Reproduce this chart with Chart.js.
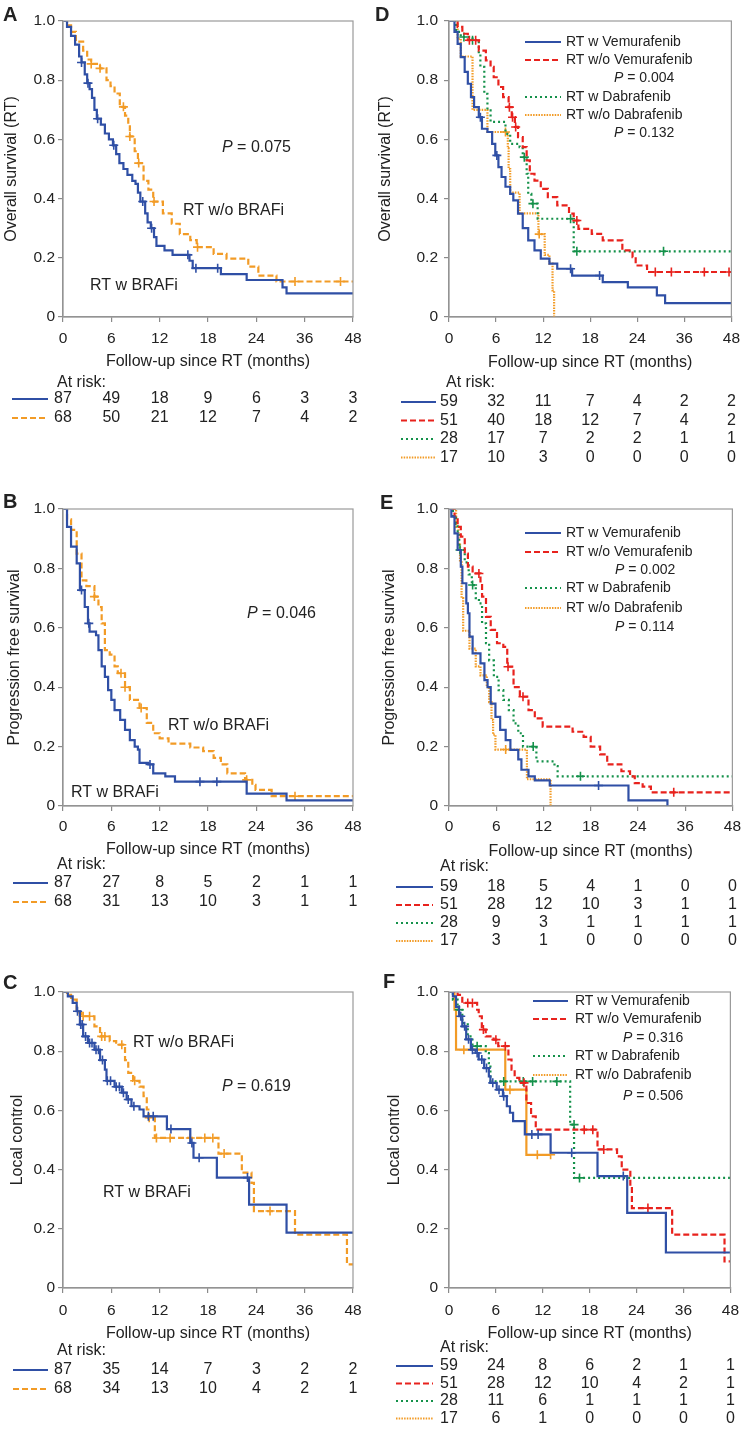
<!DOCTYPE html>
<html>
<head>
<meta charset="utf-8">
<title>Survival after RT with and without BRAF inhibitors</title>
<script src="https://cdn.jsdelivr.net/npm/chart.js@4.4.1/dist/chart.umd.min.js"></script>
<style>
    html, body { margin: 0; padding: 0; background: #fff; }
    body { position: relative; width: 747px; height: 1432px; overflow: hidden; }
    canvas { position: absolute; }
</style>
</head>
<body>
<script>
// Axis labels (x axis is equally spaced per tick, 24-48 months are compressed)
const xTickLabels = ["0", "6", "12", "18", "24", "36", "48"];
const yTickLabels = ["0", "0.2", "0.4", "0.6", "0.8", "1.0"];

// A - overall survival, [months, survival]
const osBrafSteps = [[0,1],[0.5,0.98],[1,0.95],[1.5,0.92],[2,0.88],[2.3,0.86],[2.7,0.82],[3,0.79],[3.3,0.77],[3.6,0.74],[3.9,0.70],[4.2,0.67],[4.7,0.65],[5.2,0.62],[5.7,0.60],[6.2,0.58],[6.6,0.55],[7,0.52],[7.5,0.50],[8,0.48],[8.6,0.46],[9,0.45],[9.3,0.42],[9.6,0.39],[10.2,0.35],[10.5,0.32],[10.9,0.30],[11.3,0.27],[11.6,0.24],[12.6,0.225],[13.6,0.21],[15.7,0.19],[16.1,0.165],[19.6,0.145],[22.8,0.125],[30.5,0.10],[31.5,0.08],[48,0.08]];
const osBrafCens = [[2.3,0.86],[3.1,0.79],[4.3,0.67],[6.3,0.58],[9.9,0.39],[11,0.30],[15.5,0.21],[16.5,0.165],[19.2,0.165]];
const osNoBrafSteps = [[0,1],[0.5,0.985],[1,0.963],[1.6,0.93],[2.5,0.90],[3,0.87],[3.5,0.855],[4.6,0.84],[5.4,0.80],[5.9,0.78],[6.4,0.755],[7.05,0.71],[7.7,0.68],[8.1,0.65],[8.3,0.61],[8.9,0.56],[9.3,0.52],[10,0.46],[10.6,0.43],[11.2,0.39],[12.4,0.35],[13.5,0.315],[14.5,0.28],[15.8,0.26],[16.6,0.236],[18.7,0.213],[20.3,0.197],[23,0.17],[24.5,0.14],[29,0.12],[48,0.12]];
const osNoBrafCens = [[3.5,0.855],[4.6,0.84],[7.5,0.71],[8.3,0.61],[9.4,0.52],[11.3,0.39],[16.7,0.236],[33.6,0.12],[44.9,0.12]];
const osBrafRisk = [87, 49, 18, 9, 6, 3, 3];
const osNoBrafRisk = [68, 50, 21, 12, 7, 4, 2];

// B - progression free survival
const pfsBrafSteps = [[0,1],[0.5,0.94],[1,0.873],[1.7,0.817],[2.1,0.727],[2.7,0.67],[3.1,0.615],[3.3,0.587],[4.1,0.575],[4.4,0.525],[4.8,0.47],[5.2,0.435],[5.6,0.39],[6,0.357],[6.4,0.323],[7.1,0.29],[7.7,0.256],[8.3,0.222],[8.9,0.20],[9.3,0.19],[9.5,0.145],[10.6,0.14],[11.2,0.11],[12.7,0.10],[13.9,0.082],[22.8,0.042],[31.5,0.019],[48,0.019]];
const pfsBrafCens = [[2.3,0.727],[3.2,0.615],[10.8,0.14],[17,0.082],[19.1,0.082]];
const pfsNoBrafSteps = [[0,1],[0.5,0.965],[1,0.93],[1.7,0.85],[2.3,0.76],[2.9,0.74],[3.9,0.705],[4.4,0.67],[4.8,0.615],[5.2,0.525],[5.8,0.51],[6.4,0.47],[6.8,0.447],[7.7,0.40],[8.3,0.357],[9.5,0.33],[10.4,0.28],[11.2,0.245],[12,0.228],[13.1,0.21],[15.8,0.197],[17.4,0.185],[18.7,0.162],[19.6,0.14],[20.4,0.11],[22.6,0.088],[23.5,0.071],[23.9,0.054],[27.8,0.033],[48,0.033]];
const pfsNoBrafCens = [[3.9,0.705],[7.2,0.447],[7.7,0.40],[9.7,0.33],[22.8,0.088],[33.6,0.033]];
const pfsBrafRisk = [87, 27, 8, 5, 2, 1, 1];
const pfsNoBrafRisk = [68, 31, 13, 10, 3, 1, 1];

// C - local control
const lcBrafSteps = [[0,1],[0.6,0.985],[1.2,0.963],[1.7,0.935],[2.1,0.89],[2.5,0.85],[3.1,0.828],[3.9,0.805],[4.6,0.77],[5.2,0.738],[5.4,0.70],[6.4,0.68],[7.3,0.66],[7.9,0.637],[8.5,0.614],[9.5,0.603],[10,0.58],[12.9,0.537],[15.8,0.49],[16.2,0.44],[19.1,0.373],[23.1,0.282],[31.5,0.187],[48,0.187]];
const lcBrafCens = [[1.8,0.935],[2.2,0.89],[2.4,0.89],[2.8,0.85],[3.3,0.828],[3.6,0.828],[4.1,0.805],[4.4,0.805],[4.9,0.77],[5.5,0.70],[5.9,0.70],[6.6,0.68],[7,0.68],[7.5,0.66],[8.1,0.637],[8.8,0.614],[10.6,0.58],[11.2,0.58],[13.4,0.537],[16,0.49],[16.9,0.44],[22.9,0.373]];
const lcNoBrafSteps = [[0,1],[0.5,0.99],[1,0.974],[1.7,0.93],[2.3,0.918],[3.9,0.884],[4.6,0.85],[5.8,0.834],[6.6,0.822],[7.7,0.77],[8.1,0.727],[8.7,0.70],[9.5,0.68],[10,0.648],[10.4,0.603],[10.6,0.575],[11.4,0.507],[19.3,0.454],[22.2,0.39],[23.4,0.355],[23.7,0.26],[33.6,0.18],[46.5,0.08],[48,0.08]];
const lcNoBrafCens = [[2.5,0.918],[3.3,0.918],[4.8,0.85],[5.2,0.85],[7.3,0.822],[8.9,0.70],[10.7,0.575],[11.6,0.507],[13.3,0.507],[15.8,0.507],[17.6,0.507],[18.6,0.507],[20,0.454],[27.4,0.26]];
const lcBrafRisk = [87, 35, 14, 7, 3, 2, 2];
const lcNoBrafRisk = [68, 34, 13, 10, 4, 2, 1];

// D - overall survival by drug
const osVemSteps = [[0,1],[0.7,0.963],[1.1,0.923],[1.5,0.878],[2,0.828],[2.4,0.788],[2.8,0.743],[3.2,0.709],[3.8,0.675],[4.2,0.636],[4.9,0.625],[5.5,0.585],[5.9,0.546],[6.3,0.506],[6.7,0.473],[7.2,0.44],[7.8,0.416],[8.2,0.394],[8.8,0.349],[9.4,0.30],[10.1,0.259],[10.9,0.225],[11.7,0.197],[12.8,0.18],[13.8,0.163],[15.7,0.14],[19.6,0.118],[22.8,0.10],[29,0.073],[31.1,0.047],[48,0.047]];
const osVemCens = [[4,0.675],[6.1,0.546],[15.5,0.163],[19.2,0.14]];
const osNoVemSteps = [[0,1],[1.1,0.98],[1.7,0.957],[2.4,0.935],[3.8,0.90],[4.7,0.867],[5.3,0.845],[5.7,0.81],[6.3,0.777],[6.9,0.743],[7.6,0.709],[8,0.675],[8.4,0.642],[8.8,0.608],[9.4,0.574],[9.9,0.529],[10.3,0.484],[10.9,0.461],[11.7,0.433],[12.6,0.405],[13.8,0.377],[15.3,0.349],[15.9,0.326],[16.5,0.298],[18.2,0.281],[19.6,0.259],[22.1,0.225],[23.4,0.202],[23.8,0.174],[26.5,0.152],[48,0.152]];
const osNoVemCens = [[2.6,0.935],[3.4,0.935],[7.7,0.709],[8.1,0.675],[8.5,0.642],[16.3,0.326],[28.6,0.152],[32.7,0.152],[41.1,0.152],[47.4,0.152]];
const osDabSteps = [[0,1],[0.9,0.963],[1.5,0.946],[3,0.935],[3.8,0.89],[4,0.845],[4.5,0.754],[4.9,0.698],[5.3,0.659],[7.2,0.619],[7.8,0.585],[9,0.574],[9.4,0.54],[9.9,0.484],[10.1,0.416],[10.5,0.383],[11.3,0.332],[15.9,0.222],[48,0.222]];
const osDabCens = [[1.9,0.946],[3,0.935],[9.6,0.54],[10.7,0.383],[15.5,0.332],[16.3,0.222],[30.7,0.222]];
const osNoDabSteps = [[0,1],[1.1,0.94],[1.5,0.88],[3,0.70],[4.9,0.625],[7.5,0.57],[7.6,0.50],[7.8,0.42],[9,0.35],[11.4,0.28],[12.2,0.21],[12.8,0.18],[13.2,0.09],[13.4,0]];
const osNoDabCens = [[7.2,0.625],[11.5,0.28]];
const osVemRisk = [59, 32, 11, 7, 4, 2, 2];
const osNoVemRisk = [51, 40, 18, 12, 7, 4, 2];
const osDabRisk = [28, 17, 7, 2, 2, 1, 1];
const osNoDabRisk = [17, 10, 3, 0, 0, 0, 0];

// E - progression free survival by drug
const pfsVemSteps = [[0,1],[0.3,0.974],[0.7,0.918],[1.1,0.862],[1.5,0.806],[1.7,0.75],[2.2,0.682],[2.4,0.649],[2.6,0.57],[3,0.514],[4,0.48],[4.5,0.424],[4.9,0.40],[5.3,0.345],[5.9,0.30],[6.5,0.256],[7.2,0.222],[7.8,0.189],[8.8,0.157],[9.2,0.122],[10.1,0.10],[10.9,0.086],[12.8,0.069],[22.8,0.019],[31.5,0]];
const pfsVemCens = [[19,0.069]];
const pfsNoVemSteps = [[0,1],[0.7,0.974],[1.1,0.94],[1.5,0.907],[2,0.85],[2.4,0.806],[3,0.783],[4,0.75],[4.2,0.705],[4.7,0.637],[5.3,0.593],[6.1,0.548],[6.9,0.536],[7.4,0.469],[8.2,0.40],[9,0.368],[10.1,0.323],[10.9,0.295],[11.9,0.267],[15.7,0.25],[17.1,0.233],[18,0.20],[19.2,0.174],[20.1,0.14],[21.9,0.117],[23,0.10],[23.6,0.077],[25.2,0.065],[27.3,0.046],[48,0.046]];
const pfsNoVemCens = [[3.8,0.783],[7.5,0.469],[9.4,0.368],[33.1,0.046]];
const pfsDabSteps = [[0,1],[0.5,0.97],[0.9,0.95],[1.1,0.918],[1.3,0.862],[2,0.82],[2.5,0.78],[2.9,0.744],[3.4,0.70],[3.8,0.682],[4.2,0.615],[4.7,0.548],[5.1,0.49],[5.7,0.435],[6.3,0.39],[6.9,0.357],[7.6,0.323],[8.2,0.278],[8.8,0.245],[9.4,0.20],[11.1,0.15],[13.4,0.134],[13.8,0.10],[48,0.10]];
const pfsDabCens = [[1.4,0.862],[3,0.744],[10.7,0.20],[16.7,0.10]];
const pfsNoDabSteps = [[0,1],[0.9,0.94],[1.2,0.88],[1.4,0.82],[1.6,0.70],[1.8,0.59],[2.6,0.53],[3.4,0.47],[4,0.44],[4.8,0.40],[5.1,0.35],[5.4,0.29],[5.6,0.24],[5.9,0.19],[9.9,0.09],[12.9,0]];
const pfsNoDabCens = [[7.2,0.19]];
const pfsVemRisk = [59, 18, 5, 4, 1, 0, 0];
const pfsNoVemRisk = [51, 28, 12, 10, 3, 1, 1];
const pfsDabRisk = [28, 9, 3, 1, 1, 1, 1];
const pfsNoDabRisk = [17, 3, 1, 0, 0, 0, 0];

// F - local control by drug
const lcVemSteps = [[0,1],[0.5,0.985],[0.9,0.95],[1.3,0.918],[1.7,0.884],[2.2,0.84],[2.8,0.805],[3.4,0.794],[3.8,0.772],[4.5,0.743],[5.1,0.715],[5.3,0.693],[6.1,0.67],[6.9,0.648],[7.4,0.614],[7.8,0.592],[8.2,0.564],[9.7,0.519],[13,0.457],[19,0.378],[22.8,0.254],[31.5,0.12],[48,0.12]];
const lcVemCens = [[1.5,0.918],[2,0.884],[2.5,0.84],[3,0.805],[3.6,0.794],[4.2,0.772],[4.8,0.743],[5.6,0.693],[6.4,0.67],[7,0.648],[10.6,0.519],[11.4,0.519],[15.7,0.457],[22.3,0.378]];
const lcNoVemSteps = [[0,1],[1.1,0.99],[1.7,0.963],[3.6,0.94],[3.8,0.918],[4.2,0.873],[4.7,0.85],[5.7,0.839],[6.3,0.817],[7.6,0.772],[8,0.738],[8.4,0.71],[9,0.693],[9.9,0.625],[10.5,0.58],[11.1,0.535],[19,0.468],[21.5,0.445],[22.1,0.40],[23.2,0.344],[23.4,0.27],[33.1,0.18],[46.5,0.09],[48,0.09]];
const lcNoVemCens = [[2.4,0.963],[3,0.963],[4.4,0.873],[6,0.839],[7.2,0.817],[9.6,0.693],[17.3,0.535],[18.4,0.535],[19.8,0.468],[26.9,0.27]];
const lcDabSteps = [[0,1],[0.5,0.974],[1.1,0.94],[1.7,0.895],[2.4,0.85],[3,0.817],[4.7,0.794],[5.1,0.76],[5.3,0.698],[15.5,0.552],[16,0.372],[48,0.372]];
const lcDabCens = [[1.3,0.94],[3.6,0.817],[7,0.698],[9.5,0.698],[10.7,0.698],[13.8,0.698],[16,0.552],[16.7,0.372]];
const lcNoDabSteps = [[0,1],[0.7,0.94],[0.9,0.805],[7.2,0.67],[9.9,0.45],[13,0.45]];
const lcNoDabCens = [[1.9,0.805],[7.8,0.67],[11.3,0.45],[13,0.45]];
const lcVemRisk = [59, 24, 8, 6, 2, 1, 1];
const lcNoVemRisk = [51, 28, 12, 10, 4, 2, 1];
const lcDabRisk = [28, 11, 6, 1, 1, 1, 1];
const lcNoDabRisk = [17, 6, 1, 0, 0, 0, 0];

const FONT = "'Liberation Sans', Arial, Helvetica, sans-serif";
const TEXT = "#222";
const BLUE = "#2f4fa5";
const ORANGE = "#f29b26";
const RED = "#e8221d";
const GREEN = "#14914a";
const SOLID = [];
const DASHED = [6, 3];
const DOTTED = [2, 3];
const FINEDOT = [1.5, 1.2];

// months -> position on the piecewise axis
function monthToPos(m) {
    return m <= 24 ? m / 6 : 4 + (m - 24) / 12;
}

function pText(ctx, value, x, y) {
    ctx.font = "italic 16px " + FONT;
    ctx.fillText("P", x, y);
    const w = ctx.measureText("P").width;
    ctx.font = "16px " + FONT;
    ctx.fillText(" = " + value, x + w, y);
}

function legendText(ctx, value, x, y) {
    ctx.font = "italic 14px " + FONT;
    ctx.fillText("P", x, y);
    const w = ctx.measureText("P").width;
    ctx.font = "14px " + FONT;
    ctx.fillText(" = " + value, x + w, y);
}

function sampleLine(ctx, s, x1, x2, y) {
    ctx.save();
    ctx.strokeStyle = s.color;
    ctx.lineWidth = 2.2;
    ctx.setLineDash(s.sampleDash || s.dash);
    ctx.beginPath();
    ctx.moveTo(x1, y);
    ctx.lineTo(x2, y);
    ctx.stroke();
    ctx.restore();
}

// frame, titles, annotations, legend and at-risk table
const decor = {
    id: "decor",
    afterDraw: function(chart, args, opts) {
        const p = opts.panel;
        const ctx = chart.ctx;
        const a = chart.chartArea;
        const xs = chart.scales.x;
        const ox = p.box[0], oy = p.box[1];
        ctx.save();
        ctx.strokeStyle = "#9a9a9a";
        ctx.lineWidth = 1.2;
        ctx.strokeRect(a.left, a.top, a.right - a.left, a.bottom - a.top);
        ctx.fillStyle = TEXT;
        ctx.textBaseline = "middle";
        // panel letter
        ctx.textAlign = "left";
        ctx.font = "bold 20px " + FONT;
        ctx.fillText(p.letter, p.letterPos[0] - ox, p.letterPos[1] - oy);
        // y title
        ctx.save();
        ctx.translate(p.yTitleX - ox, (a.top + a.bottom) / 2);
        ctx.rotate(-Math.PI / 2);
        ctx.textAlign = "center";
        ctx.font = "16px " + FONT;
        ctx.fillText(p.yTitle, 0, 0);
        ctx.restore();
        // x title
        ctx.textAlign = "center";
        ctx.font = "16px " + FONT;
        ctx.fillText("Follow-up since RT (months)", (a.left + a.right) / 2, a.bottom + p.xTitleOff);
        // curve labels and p values
        ctx.textAlign = "left";
        (p.labels || []).forEach(function(l) {
            ctx.font = "16px " + FONT;
            ctx.fillText(l.text, l.x - ox, l.y - oy);
        });
        (p.pvals || []).forEach(function(v) {
            pText(ctx, v.value, v.x - ox, v.y - oy);
        });
        // legend box inside plot
        if (p.legend) {
            const lg = p.legend;
            p.series.forEach(function(s, i) {
                const y = lg.rows[i] - oy;
                sampleLine(ctx, s, lg.lineX[0] - ox, lg.lineX[1] - ox, y);
                ctx.font = "14px " + FONT;
                ctx.fillText(s.name, lg.textX - ox, y);
            });
            lg.pvals.forEach(function(v) {
                legendText(ctx, v.value, v.x - ox, v.y - oy);
            });
        }
        // at-risk table
        ctx.font = "16px " + FONT;
        ctx.textAlign = "left";
        ctx.fillText("At risk:", p.riskX - ox, a.bottom + p.riskTitleOff);
        p.series.forEach(function(s, i) {
            const y = a.bottom + p.riskRowOff + i * p.riskGap;
            sampleLine(ctx, s, p.sampleX[0] - ox, p.sampleX[1] - ox, y);
            ctx.font = "16px " + FONT;
            ctx.textAlign = "center";
            s.risk.forEach(function(n, j) {
                ctx.fillText(String(n), xs.getPixelForValue(j), y);
            });
            ctx.textAlign = "left";
        });
        ctx.restore();
    }
};

function buildPanel(p) {
    const canvas = document.createElement("canvas");
    canvas.width = p.box[2];
    canvas.height = p.box[3];
    canvas.style.left = p.box[0] + "px";
    canvas.style.top = p.box[1] + "px";
    canvas.style.width = p.box[2] + "px";
    canvas.style.height = p.box[3] + "px";
    document.body.appendChild(canvas);

    const datasets = [];
    p.series.forEach(function(s) {
        datasets.push({
            data: s.steps.map(function(pt) { return { x: monthToPos(pt[0]), y: pt[1] }; }),
            stepped: "before",
            borderColor: s.color,
            borderWidth: 2.2,
            borderDash: s.dash,
            pointRadius: 0,
            fill: false
        });
        datasets.push({
            data: s.cens.map(function(pt) { return { x: monthToPos(pt[0]), y: pt[1] }; }),
            showLine: false,
            pointStyle: "cross",
            pointRadius: 4.5,
            borderColor: s.color,
            backgroundColor: s.color,
            borderWidth: 1.6
        });
    });

    const localTop = p.plot[1] - p.box[1];
    const localBottom = p.plot[3] - p.box[1];
    const xAxisH = 30;
    const tickFont = { family: FONT, size: 15.5 };

    new Chart(canvas.getContext("2d"), {
        type: "line",
        data: { datasets: datasets },
        options: {
            responsive: false,
            animation: false,
            devicePixelRatio: 1,
            layout: {
                padding: {
                    left: 0,
                    top: localTop,
                    right: p.box[0] + p.box[2] - p.plot[2],
                    bottom: p.box[3] - localBottom - xAxisH
                }
            },
            plugins: {
                legend: { display: false },
                tooltip: { enabled: false },
                decor: { panel: p }
            },
            scales: {
                x: {
                    type: "linear",
                    min: 0,
                    max: xTickLabels.length - 1,
                    afterBuildTicks: function(scale) {
                        scale.ticks = xTickLabels.map(function(l, i) { return { value: i }; });
                    },
                    afterFit: function(scale) { scale.height = xAxisH; },
                    ticks: {
                        autoSkip: false,
                        maxRotation: 0,
                        minRotation: 0,
                        padding: p.xTickPad,
                        color: TEXT,
                        font: tickFont,
                        callback: function(v, i) { return xTickLabels[i]; }
                    },
                    grid: { drawOnChartArea: false, drawTicks: true, tickLength: 5, color: "#8a8a8a", lineWidth: 1.2 },
                    border: { color: "#8a8a8a", width: 1.2 }
                },
                y: {
                    min: 0,
                    max: 1,
                    afterBuildTicks: function(scale) {
                        scale.ticks = yTickLabels.map(function(l, i) { return { value: i / 5 }; });
                    },
                    afterFit: function(scale) { scale.width = p.plot[0] - p.box[0]; },
                    ticks: {
                        padding: p.yTickPad,
                        color: TEXT,
                        font: tickFont,
                        callback: function(v, i) { return yTickLabels[i]; }
                    },
                    grid: { drawOnChartArea: false, drawTicks: true, tickLength: 5, color: "#8a8a8a", lineWidth: 1.2 },
                    border: { color: "#8a8a8a", width: 1.2 }
                }
            }
        },
        plugins: [decor]
    });
}

const panels = [
    {
        letter: "A", box: [0, 0, 373, 470], plot: [63, 21, 353, 317], letterPos: [3, 15],
        yTitle: "Overall survival (RT)", yTitleX: 12, yTickPad: 3, xTickPad: 7, xTitleOff: 45,
        riskX: 57, riskTitleOff: 66, riskRowOff: 82, riskGap: 19, sampleX: [12, 48],
        labels: [{ text: "RT w/o BRAFi", x: 183, y: 211 }, { text: "RT w BRAFi", x: 90, y: 286 }],
        pvals: [{ value: "0.075", x: 222, y: 148 }],
        series: [
            { steps: osBrafSteps, cens: osBrafCens, risk: osBrafRisk, color: BLUE, dash: SOLID },
            { steps: osNoBrafSteps, cens: osNoBrafCens, risk: osNoBrafRisk, color: ORANGE, dash: DASHED }
        ]
    },
    {
        letter: "B", box: [0, 470, 373, 480], plot: [63, 509, 353, 806], letterPos: [3, 502],
        yTitle: "Progression free survival", yTitleX: 15, yTickPad: 3, xTickPad: 6, xTitleOff: 44,
        riskX: 57, riskTitleOff: 59, riskRowOff: 77, riskGap: 19, sampleX: [13, 48],
        labels: [{ text: "RT w/o BRAFi", x: 168, y: 726 }, { text: "RT w BRAFi", x: 71, y: 793 }],
        pvals: [{ value: "0.046", x: 247, y: 614 }],
        series: [
            { steps: pfsBrafSteps, cens: pfsBrafCens, risk: pfsBrafRisk, color: BLUE, dash: SOLID },
            { steps: pfsNoBrafSteps, cens: pfsNoBrafCens, risk: pfsNoBrafRisk, color: ORANGE, dash: DASHED }
        ]
    },
    {
        letter: "C", box: [0, 950, 373, 482], plot: [63, 992, 353, 1288], letterPos: [3, 983],
        yTitle: "Local control", yTitleX: 18, yTickPad: 3, xTickPad: 8, xTitleOff: 46,
        riskX: 57, riskTitleOff: 63, riskRowOff: 82, riskGap: 19, sampleX: [13, 48],
        labels: [{ text: "RT w/o BRAFi", x: 133, y: 1043 }, { text: "RT w BRAFi", x: 103, y: 1193 }],
        pvals: [{ value: "0.619", x: 222, y: 1087 }],
        series: [
            { steps: lcBrafSteps, cens: lcBrafCens, risk: lcBrafRisk, color: BLUE, dash: SOLID },
            { steps: lcNoBrafSteps, cens: lcNoBrafCens, risk: lcNoBrafRisk, color: ORANGE, dash: DASHED }
        ]
    },
    {
        letter: "D", box: [373, 0, 374, 470], plot: [449, 21, 737, 317], letterPos: [375, 15],
        yTitle: "Overall survival (RT)", yTitleX: 386, yTickPad: 6, xTickPad: 7, xTitleOff: 46,
        riskX: 446, riskTitleOff: 66, riskRowOff: 85, riskGap: 18.5, sampleX: [401, 436],
        legend: {
            lineX: [525, 561], textX: 566, rows: [42, 60, 97, 115],
            pvals: [{ value: "0.004", x: 614, y: 78 }, { value: "0.132", x: 614, y: 133 }]
        },
        series: [
            { name: "RT w Vemurafenib", steps: osVemSteps, cens: osVemCens, risk: osVemRisk, color: BLUE, dash: SOLID },
            { name: "RT w/o Vemurafenib", steps: osNoVemSteps, cens: osNoVemCens, risk: osNoVemRisk, color: RED, dash: DASHED },
            { name: "RT w Dabrafenib", steps: osDabSteps, cens: osDabCens, risk: osDabRisk, color: GREEN, dash: DOTTED },
            { name: "RT w/o Dabrafenib", steps: osNoDabSteps, cens: osNoDabCens, risk: osNoDabRisk, color: ORANGE, dash: FINEDOT }
        ]
    },
    {
        letter: "E", box: [373, 470, 374, 480], plot: [449, 509, 737, 806], letterPos: [380, 503],
        yTitle: "Progression free survival", yTitleX: 390, yTickPad: 6, xTickPad: 6, xTitleOff: 46,
        riskX: 440, riskTitleOff: 61, riskRowOff: 81, riskGap: 18, sampleX: [396, 433],
        legend: {
            lineX: [525, 561], textX: 566, rows: [533, 552, 588, 608],
            pvals: [{ value: "0.002", x: 615, y: 570 }, { value: "0.114", x: 615, y: 627 }]
        },
        series: [
            { name: "RT w Vemurafenib", steps: pfsVemSteps, cens: pfsVemCens, risk: pfsVemRisk, color: BLUE, dash: SOLID },
            { name: "RT w/o Vemurafenib", steps: pfsNoVemSteps, cens: pfsNoVemCens, risk: pfsNoVemRisk, color: RED, dash: DASHED },
            { name: "RT w Dabrafenib", steps: pfsDabSteps, cens: pfsDabCens, risk: pfsDabRisk, color: GREEN, dash: DOTTED },
            { name: "RT w/o Dabrafenib", steps: pfsNoDabSteps, cens: pfsNoDabCens, risk: pfsNoDabRisk, color: ORANGE, dash: FINEDOT }
        ]
    },
    {
        letter: "F", box: [373, 950, 374, 482], plot: [449, 992, 737, 1288], letterPos: [383, 982],
        yTitle: "Local control", yTitleX: 395, yTickPad: 6, xTickPad: 8, xTitleOff: 46,
        riskX: 440, riskTitleOff: 60, riskRowOff: 78, riskGap: 17.5, sampleX: [396, 433],
        legend: {
            lineX: [533, 568], textX: 575, rows: [1001, 1019, 1056, 1075],
            pvals: [{ value: "0.316", x: 623, y: 1038 }, { value: "0.506", x: 623, y: 1096 }]
        },
        series: [
            { name: "RT w Vemurafenib", steps: lcVemSteps, cens: lcVemCens, risk: lcVemRisk, color: BLUE, dash: SOLID },
            { name: "RT w/o Vemurafenib", steps: lcNoVemSteps, cens: lcNoVemCens, risk: lcNoVemRisk, color: RED, dash: DASHED },
            { name: "RT w Dabrafenib", steps: lcDabSteps, cens: lcDabCens, risk: lcDabRisk, color: GREEN, dash: DOTTED },
            { name: "RT w/o Dabrafenib", steps: lcNoDabSteps, cens: lcNoDabCens, risk: lcNoDabRisk, color: ORANGE, dash: SOLID, sampleDash: FINEDOT }
        ]
    }
];

panels.forEach(buildPanel);
</script>
</body>
</html>
